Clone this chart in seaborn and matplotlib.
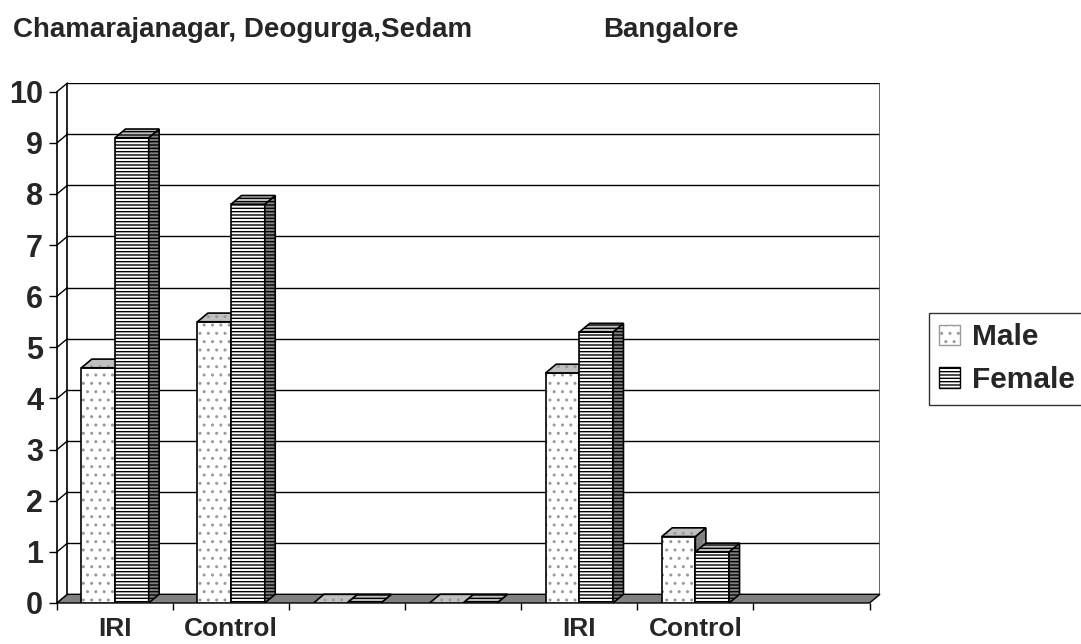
import matplotlib
matplotlib.use("Agg")
import matplotlib.pyplot as plt
from matplotlib.patches import Polygon, Rectangle, Patch
import numpy as np
import pandas as pd
import seaborn as sns

# ── data ─────────────────────────────────────────────────────────────────────
slots      = ["g0", "g1", "g2", "g3", "g4", "g5", "g6"]
tick_text  = ["IRI", "Control", "", "", "IRI", "Control", ""]
male       = [4.6, 5.5, 0, 0, 4.5, 1.3, np.nan]
female     = [9.1, 7.8, 0, 0, 5.3, 1.0, np.nan]
sexes      = ["Male", "Female"]
yticks     = list(range(0, 11))

df = pd.DataFrame({
    "slot":  slots * 2,
    "sex":   ["Male"] * len(slots) + ["Female"] * len(slots),
    "value": male + female,
}).dropna()

sns.set_theme(style="white")
plt.rcParams["font.family"] = ["Liberation Sans", "DejaVu Sans"]
plt.rcParams["hatch.linewidth"] = 1.0

# 3-D depth offset in data units
DX, DY = 0.09, 0.17
X0, X1 = -0.5, len(slots) - 0.5

fig = plt.figure(figsize=(10.81, 6.44), dpi=100)
ax = fig.add_axes([57 / 1081, 41 / 644, 823 / 1081, 520 / 644])

sns.barplot(df, x="slot", y="value", hue="sex", order=slots, hue_order=sexes,
            width=0.58, palette={"Male": "white", "Female": "white"},
            saturation=1, legend=False, ax=ax)

# ── back wall, gridlines, floor ──────────────────────────────────────────────
for y in yticks:
    if y > 0:
        ax.plot([X0 + DX, X1 + DX], [y + DY, y + DY], color="black", lw=1, zorder=1)
    ax.plot([X0, X0 + DX], [y, y + DY], color="black", lw=1, zorder=1, clip_on=False)
ax.plot([X0 + DX, X0 + DX], [DY, 10 + DY], color="black", lw=1.2, zorder=1)
ax.plot([X1 + DX, X1 + DX], [DY, 10 + DY], color="#555555", lw=2, zorder=1)
floor = Polygon([(X0, 0), (X1, 0), (X1 + DX, DY), (X0 + DX, DY)],
                closed=True, facecolor="#808080", edgecolor="black", lw=1,
                zorder=2, clip_on=False)
ax.add_patch(floor)

# ── turn the flat seaborn bars into Excel-like 3-D columns ───────────────────
styles = {
    "Male":   dict(hatch="..", hcolor="#9a9a9a"),
    "Female": dict(hatch="-----", hcolor="black"),
}
for k, (container, sex) in enumerate(zip(ax.containers, sexes)):
    st = styles[sex]
    z = 3 + k
    for bar in container:
        x, w, h = bar.get_x(), bar.get_width(), bar.get_height()
        bar.set_facecolor("white")
        bar.set_edgecolor(st["hcolor"])
        bar.set_hatch(st["hatch"])
        bar.set_linewidth(0)
        bar.set_zorder(z)
        ax.add_patch(Rectangle((x, 0), w, h, fill=False, edgecolor="black",
                               lw=1.2, zorder=z))
        side = [(x + w, 0), (x + w + DX, DY), (x + w + DX, h + DY), (x + w, h)]
        top = [(x, h), (x + DX, h + DY), (x + w + DX, h + DY), (x + w, h)]
        for pts, fc in ((side, "#808080"), (top, "#c0c0c0")):
            ax.add_patch(Polygon(pts, closed=True, facecolor=fc,
                                 edgecolor=st["hcolor"], hatch=st["hatch"],
                                 lw=0, zorder=z))
            ax.add_patch(Polygon(pts, closed=True, fill=False,
                                 edgecolor="black", lw=1.2, zorder=z))

# ── axes ─────────────────────────────────────────────────────────────────────
ax.set_xlim(X0, X1 + DX)
ax.set_ylim(0, 10 + DY)
for s in ("top", "right", "bottom"):
    ax.spines[s].set_visible(False)
ax.spines["left"].set_bounds(0, 10)
ax.spines["left"].set_color("black")
ax.spines["left"].set_linewidth(1.2)

ax.set_yticks(yticks)
ax.set_yticklabels([str(v) for v in yticks], fontsize=22, fontweight="bold")
ax.tick_params(axis="y", left=True, length=5.5, width=1, pad=4.5, color="black")

ax.set_xticks(np.arange(X0, X1 + 0.01, 1))
ax.set_xticklabels([])
ax.set_xticks(np.arange(len(slots)), minor=True)
ax.set_xticklabels(tick_text, minor=True, fontsize=19, fontweight="bold")
ax.tick_params(axis="x", which="major", bottom=True, length=5, width=1,
               color="black")
ax.tick_params(axis="x", which="minor", bottom=True, length=0, pad=10)
ax.set_xlabel("")
ax.set_ylabel("")
ax.grid(False)

# ── titles and legend ────────────────────────────────────────────────────────
fig.text(13 / 1081, 1 - 30 / 644, "Chamarajanagar, Deogurga,Sedam",
         fontsize=20, fontweight="bold", va="center", ha="left")
fig.text(603 / 1081, 1 - 30 / 644, "Bangalore",
         fontsize=20, fontweight="bold", va="center", ha="left")

handles = [Patch(facecolor="white", edgecolor=styles[s]["hcolor"],
                 hatch=styles[s]["hatch"], label=s) for s in sexes]
leg = fig.legend(handles=handles, loc="upper left",
                 bbox_to_anchor=(929 / 1081, 1 - 313 / 644),
                 prop={"size": 21.5, "weight": "bold"}, frameon=True,
                 fancybox=False, handlelength=0.7, handleheight=0.7,
                 handletextpad=0.4, borderpad=0.35, labelspacing=0.5,
                 borderaxespad=0)
leg.get_frame().set_edgecolor("black")
leg.get_frame().set_linewidth(1)

fig.savefig("out.png", dpi=100)
